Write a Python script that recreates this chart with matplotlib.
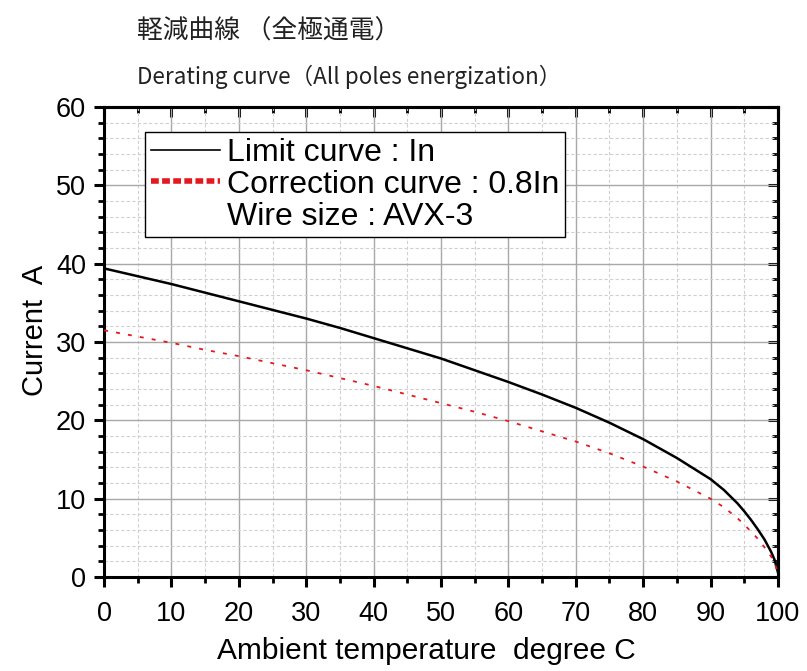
import matplotlib.pyplot as plt
from matplotlib.lines import Line2D
from matplotlib.ticker import MultipleLocator

# ambient temperature (deg C) and current (A)
temp = [0, 5, 10, 15, 20, 25, 30, 35, 40, 45, 50, 55, 60, 65, 70, 75,
        80, 85, 90, 92, 94, 95, 96, 97, 98, 99, 99.5, 100]
limit_curve = [39.4, 38.4, 37.4, 36.3, 35.2, 34.1, 33.0, 31.8, 30.5, 29.2,
               27.9, 26.4, 24.9, 23.3, 21.6, 19.7, 17.6, 15.2, 12.5, 11.1,
               9.4, 8.4, 7.3, 6.1, 4.8, 3.2, 2.2, 0.6]
correction_curve = [31.5, 30.7, 29.9, 29.0, 28.2, 27.3, 26.4, 25.4, 24.4,
                    23.3, 22.2, 21.1, 19.9, 18.6, 17.3, 15.8, 14.1, 12.2,
                    10.0, 8.9, 7.5, 6.7, 5.8, 4.9, 3.8, 2.6, 1.8, 0.5]

legend_labels = ["Limit curve : In", "Correction curve : 0.8In", "Wire size : AVX-3"]

plt.rcParams['font.family'] = ['Liberation Sans', 'DejaVu Sans']

fig = plt.figure(figsize=(8.07, 6.71), dpi=100)
ax = fig.add_axes([0.129, 0.140, 0.835, 0.7005])

red = '#e3191f'
ax.plot(temp, limit_curve, color='black', lw=1.8, zorder=3)
ax.plot(temp, correction_curve, color=red, lw=1.3, linestyle=(0, (2.2, 4.5)), zorder=3)

ax.set_xlim(0, 100)
ax.set_ylim(0, 60)
ax.xaxis.set_major_locator(MultipleLocator(10))
ax.xaxis.set_minor_locator(MultipleLocator(5))
ax.yaxis.set_major_locator(MultipleLocator(10))
ax.yaxis.set_minor_locator(MultipleLocator(2))

ax.grid(which='major', color='#a8a8a8', lw=1.0, ls='-')
ax.grid(which='minor', color='#d0d0d0', lw=0.8, ls=(0, (3, 2)))
ax.set_axisbelow(True)

for s in ax.spines.values():
    s.set_linewidth(2.2)

ax.tick_params(which='major', direction='out', length=7, width=2.2, labelsize=19.5)
ax.tick_params(which='minor', direction='out', length=4, width=2.0)
ax.tick_params(axis='x', which='major', pad=10)
ax.tick_params(axis='y', which='major', pad=6)

# inward ticks on the top and right sides
top = ax.secondary_xaxis('top')
top.xaxis.set_major_locator(MultipleLocator(10))
top.xaxis.set_minor_locator(MultipleLocator(5))
top.tick_params(which='major', direction='in', length=7, width=2.2, labeltop=False)
top.tick_params(which='minor', direction='in', length=4, width=2.0)
top.spines['top'].set_linewidth(2.2)
right = ax.secondary_yaxis('right')
right.yaxis.set_major_locator(MultipleLocator(10))
right.yaxis.set_minor_locator(MultipleLocator(2))
right.tick_params(which='major', direction='in', length=7, width=2.2, labelright=False)
right.tick_params(which='minor', direction='in', length=4, width=2.0)
right.spines['right'].set_linewidth(2.2)

ax.set_xlabel('Ambient temperature  degree C', fontsize=21.5, va='center')
ax.xaxis.set_label_coords(0.478, -0.157)
ax.set_ylabel('Current  A', fontsize=21, va='center')
ax.yaxis.set_label_coords(-0.102, 0.525)

handles = [Line2D([], [], color='black', lw=1.2),
           Line2D([], [], color=red, lw=4, linestyle=(0, (1.4, 0.6))),
           Line2D([], [], color='none')]
leg = ax.legend(handles, legend_labels, loc='upper left', bbox_to_anchor=(0.061, 0.947),
                fontsize=23, handlelength=2.15, handletextpad=0.22, labelspacing=0.06,
                borderpad=0.18, borderaxespad=0, fancybox=False, framealpha=1)
leg.get_frame().set_edgecolor('black')
leg.get_frame().set_linewidth(1.0)

fig.text(0.170, 0.953, '軽減曲線 （全極通電）', fontsize=18.5, color='#222222',
         family=['Noto Sans CJK JP', 'DejaVu Sans'], va='center')
fig.text(0.170, 0.886, 'Derating curve（All poles energization）', fontsize=16.2,
         color='#222222', family=['Noto Sans CJK JP', 'DejaVu Sans'], va='center')

fig.savefig('out.png', dpi=100)
